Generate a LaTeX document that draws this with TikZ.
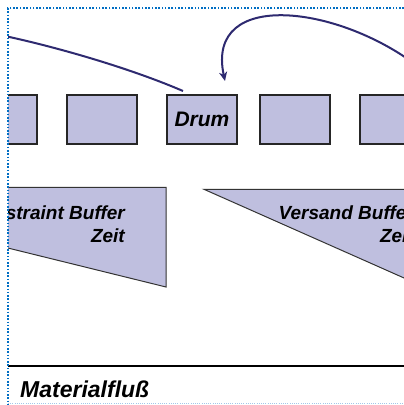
\documentclass[tikz,border=0pt]{standalone}
\usepackage{fontspec}
\setmainfont{Liberation Sans}
\usetikzlibrary{arrows.meta}
\definecolor{boxfill}{RGB}{191,191,223}
\definecolor{rope}{RGB}{46,42,112}
\definecolor{frameblue}{RGB}{0,110,195}
\definecolor{lightblue}{RGB}{165,198,232}
\tikzset{
  station/.style={draw=black!85, line width=1.2pt, fill=boxfill, minimum width=70pt, minimum height=49pt, inner sep=0pt, outer sep=0pt, anchor=north west},
  bufshape/.style={draw=black!80, line width=1pt, fill=boxfill},
  ropeline/.style={draw=rope, line width=2pt},
  lbl/.style={font=\fontsize{19}{22.5}\selectfont\bfseries\itshape, align=right, inner sep=0pt},
  frame/.style={draw=frameblue, line width=1.6pt, dash pattern=on 1.6pt off 1.7pt},
  lightframe/.style={draw=lightblue, line width=0.9pt, dash pattern=on 1pt off 1.2pt}
}
\begin{document}
\begin{tikzpicture}[x=1pt,y=-1pt]
\useasboundingbox (0,0) rectangle (404,405);
\begin{scope}
\clip (8,8) rectangle (404,405);
% stations
\node[station] (s1) at (-33,95) {};
\node[station] (s2) at (67,95) {};
\node[station, font=\fontsize{21}{24}\selectfont\bfseries\itshape] (drum) at (167,95) {Drum};
\node[station] (s4) at (260,95) {};
\node[station] (s5) at (360,95) {};
% rope coordinates
\coordinate (ropeL) at (-20,31);
\coordinate (ropeR) at (420,68);
\coordinate (drumin) at (225,81);
\coordinate (drumout) at (183,91);
% rope to the left
\draw[ropeline] (drumout) .. controls (125,66) and (40,42) .. (ropeL);
% rope from the right into the drum
\draw[ropeline, -{Stealth[length=9pt,width=8pt,inset=2.5pt]}] (ropeR) .. controls (340,5) and (205,-12) .. (drumin);
% constraint buffer
\path[bufshape] (-40,187.3) -- (166,187.3) -- (166,287) -- (-40,236.2) -- cycle;
\node[lbl, anchor=base east] (cb) at (125,242) {Constraint Buffer\\Zeit};
% shipping buffer
\path[bufshape] (204,189.3) -- (460,189.3) -- (460,302.8) -- cycle;
\node[lbl, anchor=base east] (vb) at (414,242) {Versand Buffer\\Zeit};
% material flow
\coordinate (mfL) at (8,366);
\coordinate (mfR) at (404,366);
\draw[line width=2.4pt, black] (mfL) -- (mfR);
\node[font=\fontsize{23}{26}\selectfont\bfseries\itshape, anchor=base west, inner sep=0pt] (mf) at (20,397) {Materialfluß};
\end{scope}
% frame
\coordinate (fTL) at (8,8);
\coordinate (fTR) at (404,8);
\coordinate (fBL) at (8,405);
\coordinate (fBR) at (404,403.5);
\coordinate (fBL2) at (8,403.5);
\draw[lightframe] (fBL2) -- (fBR);
\draw[frame] (fTR) -- (fTL) -- (fBL);
\end{tikzpicture}
\end{document}
